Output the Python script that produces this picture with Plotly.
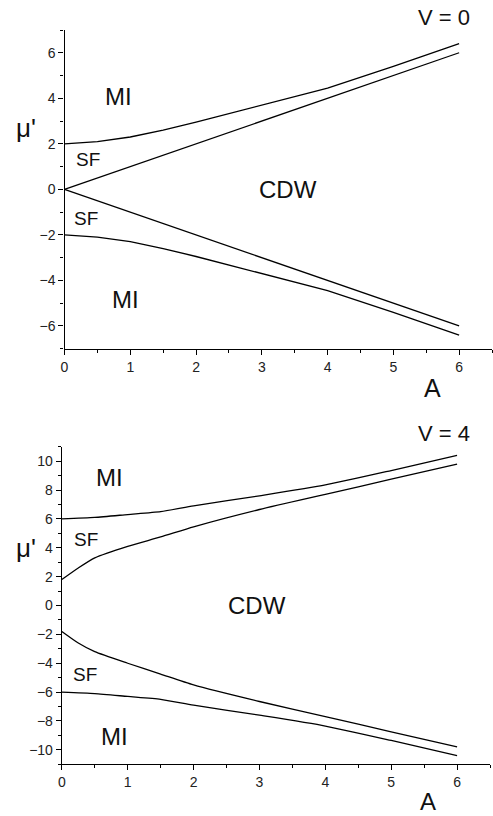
import plotly.graph_objects as go

# ---------------- data ----------------
# Panel V = 0
A0_curve = [0, 0.5, 1, 1.5, 2, 3, 4, 5, 6]
mi_upper_v0 = [2.0, 2.1, 2.3, 2.6, 2.95, 3.7, 4.45, 5.4, 6.4]
mi_lower_v0 = [-2.0, -2.1, -2.3, -2.6, -2.95, -3.7, -4.45, -5.4, -6.4]
A0_line = [0, 1, 2, 3, 4, 5, 6]
sf_upper_v0 = [0, 1, 2, 3, 4, 5, 6]
sf_lower_v0 = [0, -1, -2, -3, -4, -5, -6]

# Panel V = 4
A4_mi = [0, 0.5, 1, 1.5, 2, 3, 4, 5, 6]
mi_upper_v4 = [6.0, 6.1, 6.3, 6.5, 6.9, 7.6, 8.35, 9.35, 10.4]
mi_lower_v4 = [-6.0, -6.1, -6.3, -6.5, -6.9, -7.6, -8.35, -9.35, -10.4]
A4_sf = [0, 0.25, 0.5, 1, 1.5, 2, 3, 4, 5, 6]
sf_upper_v4 = [1.8, 2.6, 3.3, 4.1, 4.75, 5.45, 6.65, 7.7, 8.75, 9.8]
sf_lower_v4 = [-1.8, -2.6, -3.2, -4.0, -4.75, -5.5, -6.65, -7.7, -8.75, -9.8]

x_ticks = [0, 1, 2, 3, 4, 5, 6]
y_ticks_v0 = [-6, -4, -2, 0, 2, 4, 6]
y_ticks_v4 = [-10, -8, -6, -4, -2, 0, 2, 4, 6, 8, 10]

# ---------------- figure ----------------
W, H = 493, 816
FONT = "Arial, Liberation Sans, sans-serif"
fig = go.Figure()

line_style = dict(color="black", width=1.3)
for xs, ys in [(A0_curve, mi_upper_v0), (A0_curve, mi_lower_v0),
               (A0_line, sf_upper_v0), (A0_line, sf_lower_v0)]:
    fig.add_trace(go.Scatter(x=xs, y=ys, mode="lines", line=line_style,
                             xaxis="x", yaxis="y",
                             showlegend=False, hoverinfo="skip"))
for xs, ys in [(A4_mi, mi_upper_v4), (A4_mi, mi_lower_v4),
               (A4_sf, sf_upper_v4), (A4_sf, sf_lower_v4)]:
    fig.add_trace(go.Scatter(x=xs, y=ys, mode="lines",
                             line=dict(color="black", width=1.3, shape="spline", smoothing=0.6),
                             xaxis="x2", yaxis="y2",
                             showlegend=False, hoverinfo="skip"))

def px_x(p):
    return p / W

def px_y(p):
    return 1 - p / H

axis_common = dict(showline=True, linecolor="black", linewidth=1.3,
                   ticks="outside", ticklen=5, tickwidth=1.1, tickcolor="black",
                   showgrid=False, zeroline=False,
                   tickfont=dict(family=FONT, size=14, color="#222"))

fig.update_layout(
    width=W, height=H,
    margin=dict(l=0, r=0, t=0, b=0),
    paper_bgcolor="white", plot_bgcolor="white",
    xaxis=dict(domain=[px_x(61), px_x(492)], range=[0, 6.5], anchor="y",
               tickvals=x_ticks, minor=dict(dtick=0.5, tick0=0, ticks="outside",
                                            ticklen=3, tickcolor="black"),
               **axis_common),
    yaxis=dict(domain=[px_y(348.7), px_y(30)], range=[-7, 7], anchor="x",
               tickvals=y_ticks_v0, minor=dict(dtick=1, tick0=0, ticks="outside",
                                               ticklen=3, tickcolor="black"),
               **axis_common),
    xaxis2=dict(domain=[px_x(58.3), px_x(490)], range=[0, 6.5], anchor="y2",
                tickvals=x_ticks, minor=dict(dtick=0.5, tick0=0, ticks="outside",
                                             ticklen=3, tickcolor="black"),
                **axis_common),
    yaxis2=dict(domain=[px_y(764.3), px_y(446.7)], range=[-11, 11], anchor="x2",
                tickvals=y_ticks_v4, minor=dict(dtick=1, tick0=1, ticks="outside",
                                                ticklen=3, tickcolor="black"),
                **axis_common),
)

def region(text, x, y, xr, yr, size):
    fig.add_annotation(text=text, x=x, y=y, xref=xr, yref=yr, showarrow=False,
                       font=dict(family=FONT, size=size, color="#111"))

# Region labels, top panel
region("MI", 0.82, 4.1, "x", "y", 24)
region("SF", 0.36, 1.3, "x", "y", 19)
region("SF", 0.33, -1.3, "x", "y", 19)
region("MI", 0.93, -4.85, "x", "y", 24)
region("CDW", 3.4, 0.0, "x", "y", 24)
# Region labels, bottom panel
region("MI", 0.72, 8.9, "x2", "y2", 24)
region("SF", 0.37, 4.6, "x2", "y2", 19)
region("SF", 0.35, -4.75, "x2", "y2", 19)
region("MI", 0.8, -9.1, "x2", "y2", 24)
region("CDW", 2.96, 0.0, "x2", "y2", 24)

def paper_text(text, xp, yp, size, xanchor="center"):
    fig.add_annotation(text=text, x=px_x(xp), y=px_y(yp), xref="paper", yref="paper",
                       showarrow=False, xanchor=xanchor, yanchor="middle",
                       font=dict(family=FONT, size=size, color="#111"))

paper_text("V = 0", 472, 17, 22, xanchor="right")
paper_text("V = 4", 472, 433, 22, xanchor="right")
paper_text("A", 432, 388, 25)
paper_text("A", 427, 801, 24)
paper_text("μ'", 22, 128, 26)
paper_text("μ'", 22, 548, 26)

fig.write_html("out.html",
               config={"displayModeBar": False},
               post_script="document.body.style.margin='0';document.body.style.overflow='hidden';")
